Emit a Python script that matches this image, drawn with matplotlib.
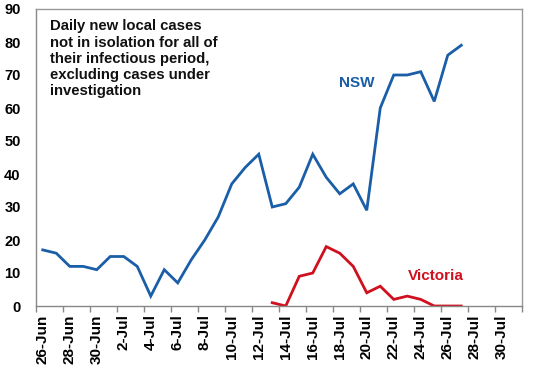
import matplotlib
matplotlib.use("Agg")
import matplotlib.pyplot as plt
import numpy as np

# ---- data ----
dates = ["26-Jun", "27-Jun", "28-Jun", "29-Jun", "30-Jun",
         "1-Jul", "2-Jul", "3-Jul", "4-Jul", "5-Jul", "6-Jul", "7-Jul", "8-Jul",
         "9-Jul", "10-Jul", "11-Jul", "12-Jul", "13-Jul", "14-Jul", "15-Jul",
         "16-Jul", "17-Jul", "18-Jul", "19-Jul", "20-Jul", "21-Jul", "22-Jul",
         "23-Jul", "24-Jul", "25-Jul", "26-Jul", "27-Jul", "28-Jul", "29-Jul",
         "30-Jul", "31-Jul"]
nsw = [17, 16, 12, 12, 11, 15, 15, 12, 3, 11, 7, 14, 20, 27, 37, 42, 46,
       30, 31, 36, 46, 39, 34, 37, 29, 60, 70, 70, 71, 62, 76, 79]
vic_start = "13-Jul"
vic = [1, 0, 9, 10, 18, 16, 12, 4, 6, 2, 3, 2, 0, 0, 0]
y_ticks = [0, 10, 20, 30, 40, 50, 60, 70, 80, 90]
title_text = ("Daily new local cases\nnot in isolation for all of\n"
              "their infectious period,\nexcluding cases under\ninvestigation")

plt.rcParams['font.family'] = ['Liberation Sans', 'DejaVu Sans']

blue = "#1a5ea8"
red = "#d0101e"

fig = plt.figure(figsize=(5.48, 3.66), dpi=100)
ax = fig.add_axes([36/548, 1-306/366, (522-36)/548, (306-9)/366])

x_all = np.arange(len(dates))
x_nsw = x_all[:len(nsw)]
vi = dates.index(vic_start)
x_vic = x_all[vi:vi+len(vic)]

ax.plot(x_nsw, nsw, color=blue, lw=2.0, solid_joinstyle='miter')
ax.plot(x_vic, vic, color=red, lw=2.0, solid_joinstyle='miter')

ax.set_xlim(-0.5, len(dates)-0.5)
ax.set_ylim(0, 90)
ax.set_yticks(y_ticks)
ax.set_yticklabels([str(v) for v in y_ticks], fontsize=10.5, fontweight='bold')
ax.tick_params(axis='y', length=0, pad=11)

# tick marks at category boundaries every 2, labels at category centres
ax.set_xticks(np.arange(-0.5, len(dates), 2))
ax.set_xticklabels([])
ax.tick_params(axis='x', which='major', length=4, color='#888888', width=1)
ax.set_xticks(x_all[::2], minor=True)
ax.set_xticklabels(dates[::2], minor=True, rotation=90, fontsize=11,
                   fontweight='bold')
ax.tick_params(axis='x', which='minor', length=0, pad=6)

for s in ['top', 'right']:
    ax.spines[s].set_color('#999999')
for s in ['left', 'bottom']:
    ax.spines[s].set_color('#888888')
for s in ax.spines.values():
    s.set_linewidth(1)

ax.text(0.55, 86.9, title_text, fontsize=10.7, fontweight='bold', va='top',
        ha='left', linespacing=1.21, color='#111111')
ax.text(23.25, 67.7, "NSW", color=blue, fontsize=11, fontweight='bold',
        ha='center', va='center')
ax.text(29.1, 9.1, "Victoria", color=red, fontsize=11, fontweight='bold',
        ha='center', va='center')

fig.savefig("out.png", dpi=100)
